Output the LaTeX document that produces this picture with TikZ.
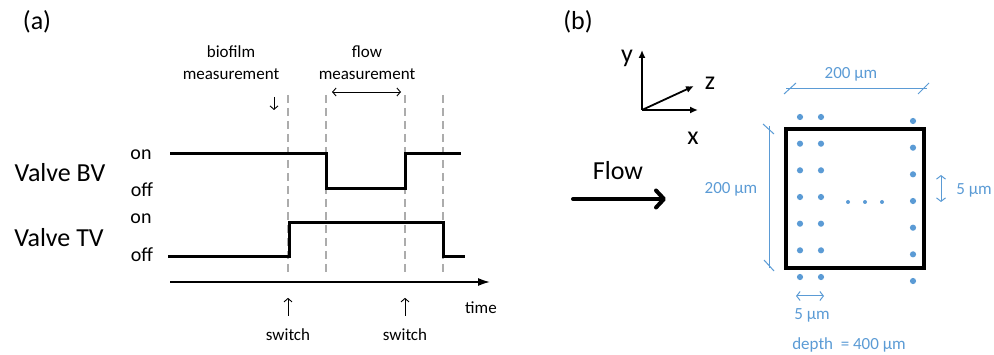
\documentclass[tikz,border=0pt]{standalone}
\usepackage{fontspec}
\setmainfont{Carlito}
\usetikzlibrary{arrows.meta,positioning,calc}
\definecolor{dimblue}{RGB}{91,155,213}
\definecolor{guidegray}{RGB}{172,172,172}

\begin{document}
\begin{tikzpicture}[
  x=1pt, y=-1pt, >=Latex,
  big/.style={font=\fontsize{26}{30}\selectfont, inner sep=0pt},
  state/.style={font=\fontsize{20}{24}\selectfont, inner sep=0pt},
  lab/.style={font=\fontsize{17}{22}\selectfont, inner sep=0pt, align=center},
  dimlab/.style={lab, text=dimblue},
  signal/.style={line width=3pt, line join=miter},
  guide/.style={guidegray, line width=1.8pt, dash pattern=on 8pt off 5pt},
  pointer/.style={line width=0.9pt, -{Straight Barb[length=3.5pt,width=8pt]}},
  dimline/.style={dimblue, line width=1pt},
  dimarrow/.style={dimblue, line width=1pt, {Straight Barb[length=3.5pt,width=9pt]}-{Straight Barb[length=3.5pt,width=9pt]}},
  dot/.style={fill=dimblue, draw=none}
]
\useasboundingbox (0,0) rectangle (994,355);

% ---- (a) timing of the two valves
\node[big] (pa) at (37,22) {(a)};
\node[big] (bv) at (60,173) {Valve BV};
\node[big] (tv) at (59,238) {Valve TV};
\node[state] (bvon) at (141,155) {on};
\node[state] (bvoff) at (142,190) {off};
\node[state] (tvon) at (141,219) {on};
\node[state] (tvoff) at (142,255) {off};

\foreach \t in {288,326,405,443}
  \draw[guide] (\t,95) -- (\t,273);

\draw[signal] (170,154) -- (326,154) -- (326,189) -- (405,189) -- (405,154) -- (461,154);
\draw[signal] (168,257) -- (289,257) -- (289,223) -- (443,223) -- (443,257) -- (465,257);
\draw[line width=1.6pt, -{Latex[length=12pt,width=8pt]}] (170,282) -- (490,282);
\node[lab] (time) at (481,308) {time};

\node[lab] (biofilm) at (231,63) {biofilm\\measurement};
\node[lab] (flowm) at (367,63) {flow\\measurement};
\draw[pointer] (274,97) -- (274,110);
\draw[line width=0.9pt, {Straight Barb[length=3.5pt,width=8pt]}-{Straight Barb[length=3.5pt,width=8pt]}] (332,92) -- (401,92);

\node[lab] (sw1) at (288,335) {switch};
\node[lab] (sw2) at (405,335) {switch};
\draw[pointer] ([yshift=13pt]sw1.north) -- ++(0,-18);
\draw[pointer] ([yshift=13pt]sw2.north) -- ++(0,-18);

% ---- (b) channel cross section
\node[big] (pb) at (578,22) {(b)};
\coordinate (o) at (642,110);
\draw[line width=1.8pt, -{Latex[length=8pt,width=7pt]}] (o) -- (642,50);
\draw[line width=1.8pt, -{Latex[length=8pt,width=7pt]}] (o) -- (698,110);
\draw[line width=1.8pt, -{Latex[length=8pt,width=7pt]}] (o) -- (694,86);
\node[big] (ly) at (627,58) {y};
\node[big] (lz) at (710,83) {z};
\node[big] (lx) at (693,138) {x};

\node[big] (flow) at (618,171) {Flow};
\draw[line width=4pt, line cap=round, -{Straight Barb[length=8pt,width=17pt,round]}] (573,199) -- (666,199);

\draw[line width=3.2pt] (786,129) rectangle (924,268);

\foreach \i in {0,...,6} {
  \fill[dot] (800,117+26.67*\i) circle (3.1pt);
  \fill[dot] (821,117+26.67*\i) circle (3.1pt);
  \fill[dot] (913,121+26.67*\i) circle (3.1pt);
}
\foreach \x in {848,865,882}
  \fill[dot] (\x,202) circle (2pt);

% dimensions
\draw[dimline] (786,89) -- (927,89);
\draw[dimline] (784,94) -- (796,83);
\draw[dimline] (918,94) -- (929,83);
\node[dimlab] (wtop) at (851,74) {200 µm};

\draw[dimline] (769,126) -- (769,268);
\draw[dimline] (763,124) -- (774,134);
\draw[dimline] (764,260) -- (774,271);
\node[dimlab] (hleft) at (731,189) {200 µm};

\draw[dimarrow] (941,175) -- (941,202);
\node[dimlab] (vgap) at (974,190) {5 µm};
\draw[dimarrow] (796,296) -- (824,296);
\node[dimlab] (hgap) at (812,315) {5 µm};
\node[dimlab] (depth) at (849,345) {depth\ \ = 400 µm};
\end{tikzpicture}
\end{document}
